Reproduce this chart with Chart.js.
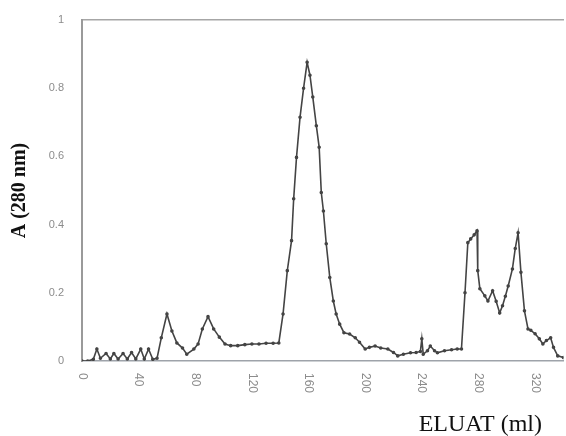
<!DOCTYPE html>
<html>
<head>
<meta charset="utf-8">
<script src="https://cdn.jsdelivr.net/npm/chart.js@4.4.1/dist/chart.umd.min.js"></script>
<style>
  html, body { margin: 0; padding: 0; background: #fff; }
</style>
</head>
<body>
<canvas id="c" width="566" height="436"></canvas>
<script>
// elution volume (ml)
const volume = [
  0, 4, 8, 10.5, 13, 17, 20, 22.5, 25.5, 29, 32, 35, 38, 41.5, 44, 47, 50, 53,
  56, 60, 63.5, 67, 71, 74, 79, 82, 85, 89, 93, 97, 101, 105, 110, 115, 120, 125, 130, 135, 139,
  142, 145, 148, 149.5, 151.5, 154, 156.5, 159, 161, 163, 165.5, 167.5, 169, 170.5, 172.5, 175,
  177.5, 179.5, 182, 185, 189, 193, 196, 200, 203, 207, 211, 216, 220, 223, 227, 232, 236,
  239, 240, 241, 244, 246, 249, 251, 256, 261, 265, 268,
  270.5, 272.5, 274.5, 277, 279, 279.5, 281, 284.5, 286.7, 290, 292.5, 295, 297, 299, 301,
  304, 306, 308, 310, 312.5, 315, 317, 320, 323, 325.5, 328, 331, 333, 336, 340
];
// absorbance at 280 nm
const absorbance = [
  0.0, 0.0, 0.005, 0.035, 0.008, 0.022, 0.006, 0.022, 0.006, 0.022, 0.006, 0.025, 0.006, 0.035, 0.006, 0.035, 0.005, 0.008,
  0.068, 0.138, 0.088, 0.053, 0.038, 0.02, 0.035, 0.05, 0.094, 0.13, 0.094, 0.07, 0.05, 0.045, 0.045, 0.048, 0.05, 0.05, 0.052, 0.052, 0.053,
  0.138, 0.265, 0.353, 0.476, 0.597, 0.715, 0.80, 0.876, 0.838, 0.774, 0.69, 0.627, 0.494, 0.44, 0.344, 0.245,
  0.176, 0.138, 0.108, 0.083, 0.079, 0.068, 0.055, 0.035, 0.04, 0.044, 0.038, 0.035, 0.025, 0.015, 0.02, 0.024, 0.025,
  0.028, 0.065, 0.02, 0.03, 0.044, 0.03, 0.024, 0.03, 0.033, 0.035, 0.035,
  0.2, 0.347, 0.358, 0.37, 0.382, 0.265, 0.212, 0.191, 0.176, 0.206, 0.175, 0.141, 0.162, 0.19, 0.22,
  0.27, 0.33, 0.376, 0.26, 0.147, 0.094, 0.09, 0.08, 0.065, 0.05, 0.06, 0.068, 0.04, 0.015, 0.01
];
const xTicks = [0, 40, 80, 120, 160, 200, 240, 280, 320];
const yTicks = [0, 0.2, 0.4, 0.6, 0.8, 1];

const points = volume.map((v, i) => ({ x: v, y: absorbance[i] }));

// x tick labels in the scan read top-to-bottom, so draw them turned clockwise
const rotatedTicks = {
  id: 'rotatedTicks',
  afterDraw(chart) {
    const { ctx } = chart;
    const x = chart.scales.x;
    ctx.save();
    ctx.fillStyle = '#8c8c8c';
    ctx.font = '12px "Liberation Sans", Arial, sans-serif';
    ctx.textAlign = 'left';
    ctx.textBaseline = 'middle';
    xTicks.forEach(v => {
      ctx.save();
      ctx.translate(x.getPixelForValue(v), x.bottom + 12);
      ctx.rotate(Math.PI / 2);
      ctx.fillText(String(v), 0, 0);
      ctx.restore();
    });
    ctx.fillStyle = '#111';
    ctx.font = '24px "Liberation Serif", "Times New Roman", serif';
    ctx.textAlign = 'right';
    ctx.textBaseline = 'alphabetic';
    ctx.fillText('ELUAT (ml)', 542, 431);
    ctx.restore();
  }
};

new Chart(document.getElementById('c'), {
  type: 'line',
  data: {
    datasets: [{
      data: points,
      borderColor: '#444',
      backgroundColor: '#444',
      borderWidth: 1.6,
      pointRadius: 1,
      pointHoverRadius: 1,
      tension: 0,
      fill: false
    }]
  },
  options: {
    responsive: false,
    animation: false,
    layout: { padding: { top: 20, right: 0, bottom: 75, left: 0 } },
    plugins: { legend: { display: false }, tooltip: { enabled: false } },
    scales: {
      x: {
        type: 'linear',
        min: 0,
        max: 340,
        grid: { display: false },
        border: { color: '#9ea3aa', width: 1.5 },
        ticks: { display: false },
        afterFit: s => { s.height = 0; }
      },
      x2: {
        type: 'linear',
        position: 'top',
        min: 0,
        max: 340,
        grid: { display: false },
        border: { color: '#a6a6a6', width: 1.5 },
        ticks: { display: false },
        afterFit: s => { s.height = 0; }
      },
      y: {
        min: 0,
        max: 1,
        grid: { display: false },
        border: { color: '#9a9a9a', width: 2 },
        afterBuildTicks: s => { s.ticks = yTicks.map(v => ({ value: v })); },
        ticks: {
          color: '#8c8c8c',
          padding: 10,
          font: { family: '"Liberation Sans", Arial, sans-serif', size: 11 },
          callback: v => (v === 0 || v === 1) ? String(v) : v.toFixed(1)
        },
        title: {
          display: true,
          text: 'A (280 nm)',
          color: '#111',
          padding: { top: 8, bottom: 0 },
          font: { family: '"Liberation Serif", "Times New Roman", serif', size: 20, weight: 'bold' }
        },
        afterFit: s => { s.width = 82; }
      }
    }
  },
  plugins: [rotatedTicks]
});
</script>
</body>
</html>
